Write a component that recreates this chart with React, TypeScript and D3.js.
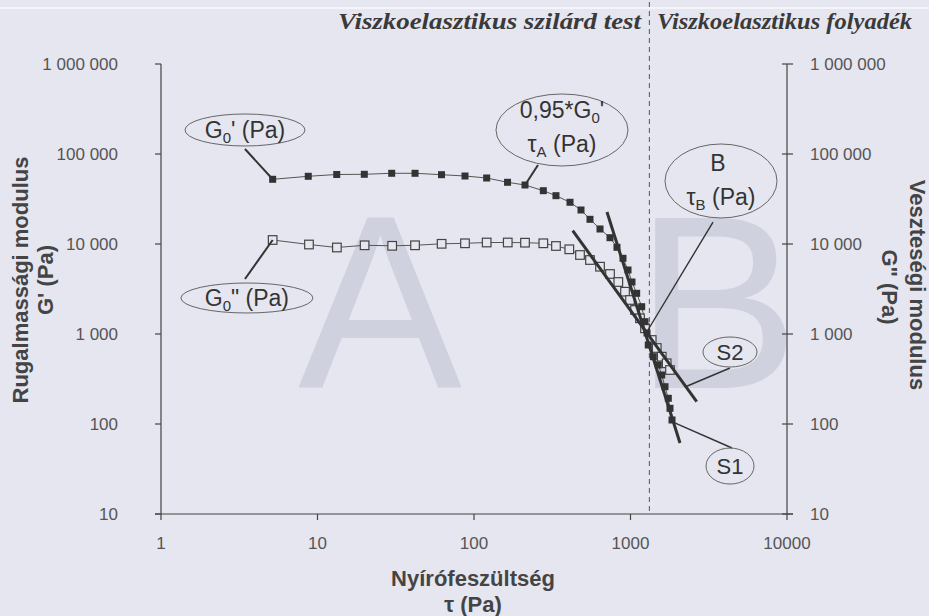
import React from 'react';
import * as d3 from 'd3';

// ---------- data ----------
const xTickValues = [1, 10, 100, 1000, 10000];
const xTickLabels = ['1', '10', '100', '1000', '10000'];
const yTickValues = [10, 100, 1000, 10000, 100000, 1000000];
const yTickLabels = ['10', '100', '1 000', '10 000', '100 000', '1 000 000'];

// G' (storage modulus) – filled squares
const tauStorage = [5.17, 8.73, 13.27, 19.91, 29.8, 42.0, 62.0, 87.6, 120.5, 163.8, 211.8, 277.3, 334, 410.7, 482.7, 551, 638.6, 739.6, 819.6, 895.4, 963.9, 1022, 1095, 1179, 1238, 1275, 1299, 1398, 1505, 1583, 1661, 1744, 1788, 1842];
const gStorage = [52350, 56530, 59190, 59490, 61040, 61040, 58900, 56950, 54120, 48490, 45240, 39110, 34420, 29070, 23870, 18810, 14680, 11750, 9190, 6937, 5141, 3782, 2833, 2011, 1370, 1026, 755, 559.5, 452.4, 350.3, 259.6, 193.0, 149.4, 110.8];

// G'' (loss modulus) – open squares
const tauLoss = [5.17, 8.82, 13.3, 20.0, 30.0, 42.0, 62.1, 87.6, 120.5, 164.3, 211.8, 277.3, 334, 406.4, 475.7, 551, 638.6, 739.6, 835.7, 922.5, 993, 1069, 1150, 1238, 1366, 1471, 1583, 1703, 1788];
const gLoss = [11080, 9872, 9145, 9674, 9550, 9674, 10050, 10180, 10390, 10390, 10340, 10180, 9502, 8733, 7548, 6640, 5595, 4642, 3782, 2951, 2387, 1848, 1494, 1157, 857.7, 698.9, 559.5, 472.5, 398.1];

// tangent (slope) lines
const slopeS1 = [[707.6, 22680], [2072, 61.5]];
const slopeS2 = [[427.3, 14050], [2649, 176.9]];

const crossoverTau = 1320;
const regionTitles = ['Viszkoelasztikus szilárd test', 'Viszkoelasztikus folyadék'];
const bigLetters = ['A', 'B'];
const bigLetterTau = [25.08, 3570];
const bigLetterG = [251, 251];

// annotation anchors (data space): centre, connector start, connector end
const annIds = ['g0s', 'g0l', 'tauA', 'B', 'S2', 'S1'];
const annCenterTau = [3.44, 3.54, 365, 3787, 4324, 4324];
const annCenterG = [184800, 2512, 184800, 50120, 631, 34.1];
const annFrom = [[3.44, 113600], [3.44, 4084], [256.5, 75470], [3367, 17550], [4324, 419], [4454, 54.1]];
const annTo = [[5.17, 52350], [5.17, 11080], [211.8, 45240], [1293, 1108], [2229, 257.7], [1869, 105.2]];

// ---------- styles ----------
const BG = '#e5e6ef';
const SANS = '"Liberation Sans", Arial, Helvetica, sans-serif';
const SERIF = '"Liberation Serif", "Times New Roman", serif';
const annSize: Record<string, [number, number, number]> = {
  g0s: [60, 16, 2],
  g0l: [66, 15, 2],
  tauA: [66, 36, 2],
  B: [56, 37, 1.4],
  S2: [27, 15, 1.4],
  S1: [24, 18, 1.4],
};

export default function App() {
  const x = d3.scaleLog().domain([1, 10000]).range([161, 787]);
  const y = d3.scaleLog().domain([10, 1e6]).range([514, 64]);
  const line = d3
    .line<[number, number]>()
    .x((d) => x(d[0]))
    .y((d) => y(d[1]));

  const storage = tauStorage.map((t, i) => [t, gStorage[i]] as [number, number]);
  const loss = tauLoss.map((t, i) => [t, gLoss[i]] as [number, number]);

  const xL = x.range()[0];
  const xR = x.range()[1];
  const yB = y.range()[0];
  const yT = y.range()[1];

  const labelContent = (id: string, cx: number, cy: number) => {
    const fs = 23;
    const sub = 15;
    const common = { fontFamily: SANS, fill: '#333', textAnchor: 'middle' as const };
    switch (id) {
      case 'g0s':
        return (
          <text x={cx} y={cy + 8} fontSize={fs} {...common}>
            G<tspan fontSize={sub} dy={5}>0</tspan>
            <tspan dy={-5}>' (Pa)</tspan>
          </text>
        );
      case 'g0l':
        return (
          <text x={cx} y={cy + 8} fontSize={fs} {...common}>
            G<tspan fontSize={sub} dy={5}>0</tspan>
            <tspan dy={-5}>" (Pa)</tspan>
          </text>
        );
      case 'tauA':
        return (
          <g>
            <text x={cx} y={cy - 12} fontSize={fs} {...common}>
              0,95*G<tspan fontSize={sub} dy={5}>0</tspan>
              <tspan dy={-5}>'</tspan>
            </text>
            <text x={cx} y={cy + 22} fontSize={fs} {...common}>
              τ<tspan fontSize={sub} dy={5}>A</tspan>
              <tspan dy={-5}> (Pa)</tspan>
            </text>
          </g>
        );
      case 'B':
        return (
          <g>
            <text x={cx - 3} y={cy - 10} fontSize={fs} {...common}>B</text>
            <text x={cx} y={cy + 24} fontSize={fs} {...common}>
              τ<tspan fontSize={sub} dy={5}>B</tspan>
              <tspan dy={-5}> (Pa)</tspan>
            </text>
          </g>
        );
      case 'S2':
        return (
          <text x={cx} y={cy + 8} fontSize={22} {...common}>S2</text>
        );
      case 'S1':
        return (
          <text x={cx} y={cy + 8} fontSize={22} {...common}>S1</text>
        );
      default:
        return null;
    }
  };

  return (
    <svg
      width={929}
      height={616}
      style={{ position: 'absolute', left: 0, top: 0, display: 'block' }}
    >
      <rect x={0} y={0} width={929} height={616} fill={BG} />
      <line x1={0} x2={929} y1={8} y2={8} stroke="#f4f5fa" strokeWidth={2} />

      {/* big region letters */}
      {bigLetters.map((L, i) => (
        <text
          key={L}
          x={x(bigLetterTau[i])}
          y={y(bigLetterG[i])}
          fontSize={246}
          fontFamily={SANS}
          textAnchor="middle"
          fill="#cfd2de"
        >
          {L}
        </text>
      ))}

      {/* region titles */}
      <text
        x={338}
        y={29}
        fontFamily={SERIF}
        fontStyle="italic"
        fontWeight="bold"
        fontSize={24}
        fill="#3a3a3a"
        textLength={303}
        lengthAdjust="spacingAndGlyphs"
      >
        {regionTitles[0]}
      </text>
      <text
        x={657}
        y={29}
        fontFamily={SERIF}
        fontStyle="italic"
        fontWeight="bold"
        fontSize={24}
        fill="#3a3a3a"
        textLength={255}
        lengthAdjust="spacingAndGlyphs"
      >
        {regionTitles[1]}
      </text>

      {/* crossover dashed line */}
      <line
        x1={x(crossoverTau)}
        x2={x(crossoverTau)}
        y1={2}
        y2={yB}
        stroke="#555"
        strokeWidth={1}
        strokeDasharray="5,4"
      />

      {/* axes */}
      <g stroke="#444" strokeWidth={1.2}>
        <line x1={xL} x2={xL} y1={yT} y2={yB} />
        <line x1={xR} x2={xR} y1={yT} y2={yB} />
        <line x1={xL - 6} x2={xR + 6} y1={yB} y2={yB} />
        {yTickValues.map((v) => (
          <g key={'yt' + v}>
            <line x1={xL - 6} x2={xL} y1={y(v)} y2={y(v)} />
            <line x1={xR - 5} x2={xR + 6} y1={y(v)} y2={y(v)} />
          </g>
        ))}
        {xTickValues.map((v) => (
          <line key={'xt' + v} x1={x(v)} x2={x(v)} y1={yB} y2={yB + 6} />
        ))}
      </g>

      {/* tick labels */}
      <g fontFamily={SANS} fontSize={17} fill="#555">
        {yTickValues.map((v, i) => (
          <text key={'yl' + v} x={118} y={y(v)} dy="0.35em" textAnchor="end">
            {yTickLabels[i]}
          </text>
        ))}
        {yTickValues.map((v, i) => (
          <text key={'yr' + v} x={810} y={y(v)} dy="0.35em" textAnchor="start">
            {yTickLabels[i]}
          </text>
        ))}
        {xTickValues.map((v, i) => (
          <text key={'xl' + v} x={x(v)} y={549} textAnchor="middle">
            {xTickLabels[i]}
          </text>
        ))}
      </g>

      {/* axis titles */}
      <g fontFamily={SANS} fontWeight="bold" fontSize={22} fill="#444" textAnchor="middle">
        <text transform="translate(28,280) rotate(-90)">Rugalmassági modulus</text>
        <text transform="translate(53,280) rotate(-90)">G' (Pa)</text>
        <text transform="translate(910,285) rotate(90)">Veszteségi modulus</text>
        <text transform="translate(882,287) rotate(90)">G" (Pa)</text>
        <text x={473} y={586}>Nyírófeszültség</text>
        <text x={473} y={612}>τ (Pa)</text>
      </g>

      {/* data lines */}
      <path d={line(loss) || ''} fill="none" stroke="#555" strokeWidth={1} />
      <path d={line(storage) || ''} fill="none" stroke="#555" strokeWidth={1} />

      {/* G'' open squares */}
      {loss.map((d, i) => (
        <rect
          key={'l' + i}
          x={x(d[0]) - 4.3}
          y={y(d[1]) - 4.3}
          width={8.6}
          height={8.6}
          fill={BG}
          stroke="#444"
          strokeWidth={1.2}
        />
      ))}
      {/* G' filled squares */}
      {storage.map((d, i) => (
        <rect
          key={'s' + i}
          x={x(d[0]) - 3.5}
          y={y(d[1]) - 3.5}
          width={7}
          height={7}
          fill="#333"
        />
      ))}

      {/* tangent lines */}
      {[slopeS1, slopeS2].map((s, i) => (
        <path
          key={'sl' + i}
          d={line(s as [number, number][]) || ''}
          stroke="#333"
          strokeWidth={3}
          fill="none"
        />
      ))}

      {/* annotations */}
      {annIds.map((id, i) => {
        const cx = x(annCenterTau[i]);
        const cy = y(annCenterG[i]);
        const [rx, ry, lw] = annSize[id];
        return (
          <g key={id}>
            <line
              x1={x(annFrom[i][0])}
              y1={y(annFrom[i][1])}
              x2={x(annTo[i][0])}
              y2={y(annTo[i][1])}
              stroke="#333"
              strokeWidth={lw}
            />
            <ellipse cx={cx} cy={cy} rx={rx} ry={ry} fill="none" stroke="#666" strokeWidth={1} />
            {labelContent(id, cx, cy)}
          </g>
        );
      })}
    </svg>
  );
}
